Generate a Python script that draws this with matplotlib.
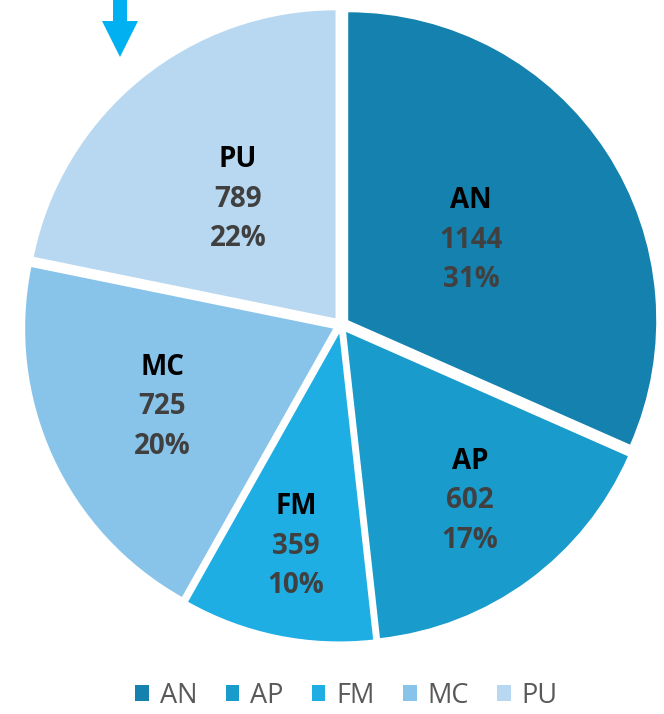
import matplotlib
matplotlib.use("Agg")
import matplotlib.pyplot as plt
from matplotlib.patches import FancyArrow
import numpy as np

categories = ["AN", "AP", "FM", "MC", "PU"]
values = [1144, 602, 359, 725, 789]
percent_labels = ["31%", "17%", "10%", "20%", "22%"]

colors = ["#1481AE", "#199BCC", "#1EAEE4", "#88C4EA", "#B7D8F0"]
label_dist = [0.477, 0.68, 0.705, 0.61, 0.50]

plt.rcParams['font.family'] = ['Open Sans', 'DejaVu Sans']

W, H = 664, 714
fig = plt.figure(figsize=(W / 100, H / 100), dpi=100)
ax = fig.add_axes([0, 0, 1, 1])

cx, cy, R = 341, H - 325, 308
expl = 0.028 * R
wedges, _ = ax.pie(values, colors=colors, startangle=90, counterclock=False,
                   explode=[expl] * len(values), center=(cx, cy), radius=R,
                   wedgeprops=dict(linewidth=0))
ax.set_xlim(0, W)
ax.set_ylim(0, H)
ax.set_aspect('equal')
ax.axis('off')

for w, cat, v, p, d in zip(wedges, categories, values, percent_labels, label_dist):
    mid = np.deg2rad((w.theta1 + w.theta2) / 2)
    r = d * R + expl
    x = cx + r * np.cos(mid)
    y = cy + r * np.sin(mid)
    ax.text(x, y + 39.5, cat, ha='center', va='center', fontsize=20,
            fontweight='bold', color='black')
    ax.text(x, y, str(v), ha='center', va='center', fontsize=20,
            fontweight='bold', color='#404040')
    ax.text(x, y - 39.5, p, ha='center', va='center', fontsize=20,
            fontweight='bold', color='#404040')

arrow = FancyArrow(120, H, 0, -57, width=14, head_width=36, head_length=36,
                   length_includes_head=True, color='#00B0F0', linewidth=0)
ax.add_patch(arrow)

leg = fig.legend(wedges, categories, loc='lower center', ncol=5,
                 bbox_to_anchor=(0.522, -0.028), frameon=False, fontsize=19.5,
                 handlelength=0.5, handleheight=0.5, handletextpad=0.4,
                 columnspacing=1.05)
for t in leg.get_texts():
    t.set_color('#595959')

fig.savefig("out.png", dpi=100)
